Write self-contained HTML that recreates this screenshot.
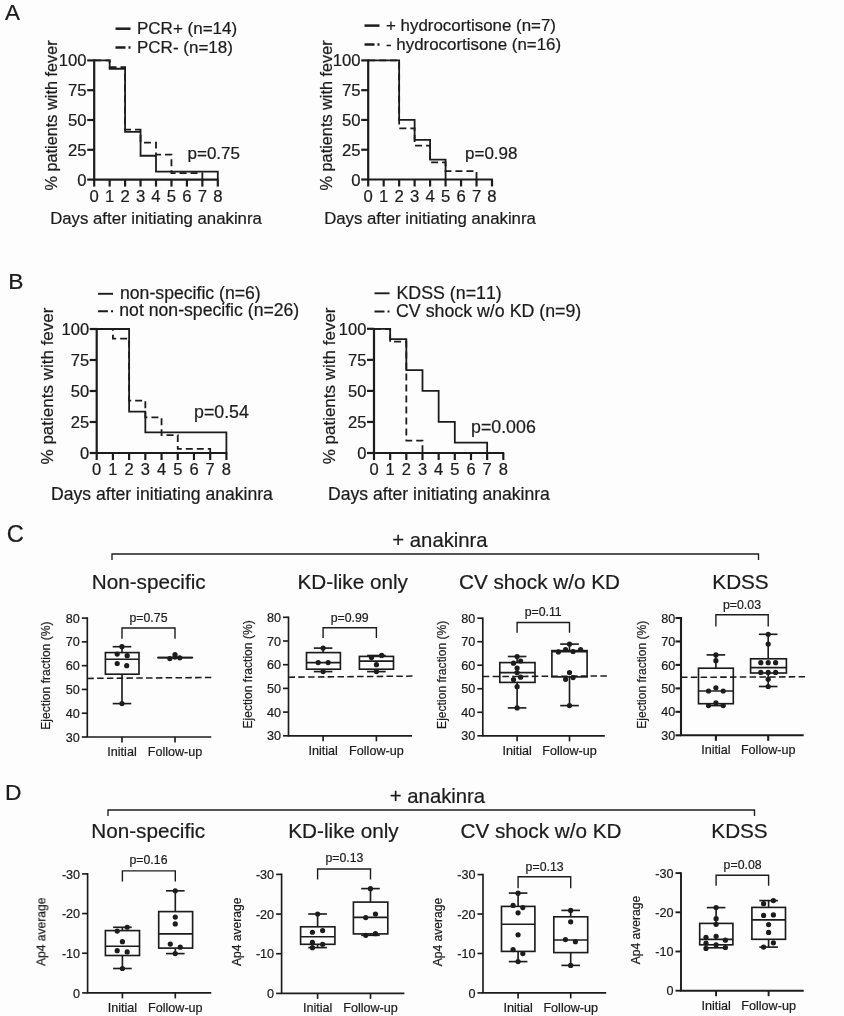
<!DOCTYPE html>
<html><head><meta charset="utf-8"><title>Figure</title>
<style>
html,body{margin:0;padding:0;background:#fdfdfd;}
body{width:844px;height:1016px;overflow:hidden;}
svg{display:block;font-family:"Liberation Sans", sans-serif;}
svg text{fill:#1c1c1c;stroke:#1c1c1c;stroke-width:0.22px;}
</style></head><body>
<svg width="844" height="1016" viewBox="0 0 844 1016" stroke="#1c1c1c" fill="none">
<rect x="0" y="0" width="844" height="1016" fill="#fdfdfd" stroke="none"/>
<g opacity="0.999">
<path d="M94.20,59.50 V179.60 H218.70" fill="none" stroke-width="2.2" stroke-linejoin="miter"/>
<line x1="87.20" y1="60.40" x2="94.20" y2="60.40" stroke-width="2.2" stroke-linecap="butt"/>
<text x="86.6" y="66.4" font-size="16.7" text-anchor="end">100</text>
<line x1="87.20" y1="90.20" x2="94.20" y2="90.20" stroke-width="2.2" stroke-linecap="butt"/>
<text x="86.6" y="96.2" font-size="16.7" text-anchor="end">75</text>
<line x1="87.20" y1="120.00" x2="94.20" y2="120.00" stroke-width="2.2" stroke-linecap="butt"/>
<text x="86.6" y="126.0" font-size="16.7" text-anchor="end">50</text>
<line x1="87.20" y1="149.80" x2="94.20" y2="149.80" stroke-width="2.2" stroke-linecap="butt"/>
<text x="86.6" y="155.8" font-size="16.7" text-anchor="end">25</text>
<line x1="87.20" y1="179.60" x2="94.20" y2="179.60" stroke-width="2.2" stroke-linecap="butt"/>
<text x="86.6" y="185.6" font-size="16.7" text-anchor="end">0</text>
<line x1="94.20" y1="179.60" x2="94.20" y2="186.60" stroke-width="2.2" stroke-linecap="butt"/>
<text x="94.2" y="201.9" font-size="16.7" text-anchor="middle">0</text>
<line x1="109.65" y1="179.60" x2="109.65" y2="186.60" stroke-width="2.2" stroke-linecap="butt"/>
<text x="109.65" y="201.9" font-size="16.7" text-anchor="middle">1</text>
<line x1="125.10" y1="179.60" x2="125.10" y2="186.60" stroke-width="2.2" stroke-linecap="butt"/>
<text x="125.1" y="201.9" font-size="16.7" text-anchor="middle">2</text>
<line x1="140.55" y1="179.60" x2="140.55" y2="186.60" stroke-width="2.2" stroke-linecap="butt"/>
<text x="140.55" y="201.9" font-size="16.7" text-anchor="middle">3</text>
<line x1="156.00" y1="179.60" x2="156.00" y2="186.60" stroke-width="2.2" stroke-linecap="butt"/>
<text x="156.0" y="201.9" font-size="16.7" text-anchor="middle">4</text>
<line x1="171.45" y1="179.60" x2="171.45" y2="186.60" stroke-width="2.2" stroke-linecap="butt"/>
<text x="171.45" y="201.9" font-size="16.7" text-anchor="middle">5</text>
<line x1="186.90" y1="179.60" x2="186.90" y2="186.60" stroke-width="2.2" stroke-linecap="butt"/>
<text x="186.9" y="201.9" font-size="16.7" text-anchor="middle">6</text>
<line x1="202.35" y1="179.60" x2="202.35" y2="186.60" stroke-width="2.2" stroke-linecap="butt"/>
<text x="202.35" y="201.9" font-size="16.7" text-anchor="middle">7</text>
<line x1="217.80" y1="179.60" x2="217.80" y2="186.60" stroke-width="2.2" stroke-linecap="butt"/>
<text x="217.8" y="201.9" font-size="16.7" text-anchor="middle">8</text>
<path d="M94.20,60.40 H109.65 V67.08 H125.10 V129.54 H140.55 V142.65 H156.00 V154.57 H171.45 V173.04 H202.35 V179.60" fill="none" stroke-width="1.8" stroke-dasharray="7 4" stroke-linejoin="miter"/>
<path d="M94.20,60.40 H109.65 V68.74 H125.10 V131.92 H140.55 V155.76 H156.00 V171.61 H217.80 V179.60" fill="none" stroke-width="1.8" stroke-linejoin="miter"/>
<text x="57.3" y="115.4" font-size="16.3" text-anchor="middle" transform="rotate(-90 57.3 115.4)">% patients with fever</text>
<text x="156" y="224" font-size="16.8" text-anchor="middle">Days after initiating anakinra</text>
<text x="187.5" y="159" font-size="17" text-anchor="start">p=0.75</text>
<line x1="115.50" y1="28.70" x2="130.50" y2="28.70" stroke-width="2.5" stroke-linecap="butt"/>
<line x1="115.50" y1="47.40" x2="130.50" y2="47.40" stroke-width="2.5" stroke-dasharray="10 3 2.5 50" stroke-linecap="butt"/>
<text x="137" y="34.2" font-size="17" text-anchor="start">PCR+ (n=14)</text>
<text x="137" y="53.1" font-size="17" text-anchor="start">PCR- (n=18)</text>
<path d="M368.20,59.50 V179.50 H492.90" fill="none" stroke-width="2.2" stroke-linejoin="miter"/>
<line x1="361.20" y1="60.40" x2="368.20" y2="60.40" stroke-width="2.2" stroke-linecap="butt"/>
<text x="360.6" y="66.4" font-size="16.7" text-anchor="end">100</text>
<line x1="361.20" y1="90.18" x2="368.20" y2="90.18" stroke-width="2.2" stroke-linecap="butt"/>
<text x="360.6" y="96.18" font-size="16.7" text-anchor="end">75</text>
<line x1="361.20" y1="119.95" x2="368.20" y2="119.95" stroke-width="2.2" stroke-linecap="butt"/>
<text x="360.6" y="125.95" font-size="16.7" text-anchor="end">50</text>
<line x1="361.20" y1="149.72" x2="368.20" y2="149.72" stroke-width="2.2" stroke-linecap="butt"/>
<text x="360.6" y="155.72" font-size="16.7" text-anchor="end">25</text>
<line x1="361.20" y1="179.50" x2="368.20" y2="179.50" stroke-width="2.2" stroke-linecap="butt"/>
<text x="360.6" y="185.5" font-size="16.7" text-anchor="end">0</text>
<line x1="368.20" y1="179.50" x2="368.20" y2="186.50" stroke-width="2.2" stroke-linecap="butt"/>
<text x="368.2" y="201.8" font-size="16.7" text-anchor="middle">0</text>
<line x1="383.68" y1="179.50" x2="383.68" y2="186.50" stroke-width="2.2" stroke-linecap="butt"/>
<text x="383.68" y="201.8" font-size="16.7" text-anchor="middle">1</text>
<line x1="399.15" y1="179.50" x2="399.15" y2="186.50" stroke-width="2.2" stroke-linecap="butt"/>
<text x="399.15" y="201.8" font-size="16.7" text-anchor="middle">2</text>
<line x1="414.62" y1="179.50" x2="414.62" y2="186.50" stroke-width="2.2" stroke-linecap="butt"/>
<text x="414.62" y="201.8" font-size="16.7" text-anchor="middle">3</text>
<line x1="430.10" y1="179.50" x2="430.10" y2="186.50" stroke-width="2.2" stroke-linecap="butt"/>
<text x="430.1" y="201.8" font-size="16.7" text-anchor="middle">4</text>
<line x1="445.57" y1="179.50" x2="445.57" y2="186.50" stroke-width="2.2" stroke-linecap="butt"/>
<text x="445.57" y="201.8" font-size="16.7" text-anchor="middle">5</text>
<line x1="461.05" y1="179.50" x2="461.05" y2="186.50" stroke-width="2.2" stroke-linecap="butt"/>
<text x="461.05" y="201.8" font-size="16.7" text-anchor="middle">6</text>
<line x1="476.52" y1="179.50" x2="476.52" y2="186.50" stroke-width="2.2" stroke-linecap="butt"/>
<text x="476.52" y="201.8" font-size="16.7" text-anchor="middle">7</text>
<line x1="492.00" y1="179.50" x2="492.00" y2="186.50" stroke-width="2.2" stroke-linecap="butt"/>
<text x="492.0" y="201.8" font-size="16.7" text-anchor="middle">8</text>
<path d="M368.20,60.40 H399.15 V128.29 H414.62 V145.56 H430.10 V162.47 H445.57 V171.16 H476.52 V179.50" fill="none" stroke-width="1.8" stroke-dasharray="7 4" stroke-linejoin="miter"/>
<path d="M368.20,60.40 H399.15 V119.95 H414.62 V139.84 H430.10 V159.61 H445.57 V179.50" fill="none" stroke-width="1.8" stroke-linejoin="miter"/>
<text x="331.8" y="115.35" font-size="16.3" text-anchor="middle" transform="rotate(-90 331.8 115.35)">% patients with fever</text>
<text x="430" y="224" font-size="16.8" text-anchor="middle">Days after initiating anakinra</text>
<text x="465" y="159" font-size="17" text-anchor="start">p=0.98</text>
<line x1="364.50" y1="25.60" x2="379.50" y2="25.60" stroke-width="2.5" stroke-linecap="butt"/>
<line x1="364.50" y1="44.40" x2="379.50" y2="44.40" stroke-width="2.5" stroke-dasharray="10 3 2.5 50" stroke-linecap="butt"/>
<text x="386" y="30.6" font-size="16.9" text-anchor="start">+ hydrocortisone (n=7)</text>
<text x="386" y="49.8" font-size="16.9" text-anchor="start">- hydrocortisone (n=16)</text>
<path d="M96.70,328.10 V453.00 H227.30" fill="none" stroke-width="2.2" stroke-linejoin="miter"/>
<line x1="89.70" y1="329.00" x2="96.70" y2="329.00" stroke-width="2.2" stroke-linecap="butt"/>
<text x="89.1" y="335.0" font-size="16.5" text-anchor="end">100</text>
<line x1="89.70" y1="360.00" x2="96.70" y2="360.00" stroke-width="2.2" stroke-linecap="butt"/>
<text x="89.1" y="366.0" font-size="16.5" text-anchor="end">75</text>
<line x1="89.70" y1="391.00" x2="96.70" y2="391.00" stroke-width="2.2" stroke-linecap="butt"/>
<text x="89.1" y="397.0" font-size="16.5" text-anchor="end">50</text>
<line x1="89.70" y1="422.00" x2="96.70" y2="422.00" stroke-width="2.2" stroke-linecap="butt"/>
<text x="89.1" y="428.0" font-size="16.5" text-anchor="end">25</text>
<line x1="89.70" y1="453.00" x2="96.70" y2="453.00" stroke-width="2.2" stroke-linecap="butt"/>
<text x="89.1" y="459.0" font-size="16.5" text-anchor="end">0</text>
<line x1="96.70" y1="453.00" x2="96.70" y2="460.00" stroke-width="2.2" stroke-linecap="butt"/>
<text x="96.7" y="475.3" font-size="16.5" text-anchor="middle">0</text>
<line x1="112.91" y1="453.00" x2="112.91" y2="460.00" stroke-width="2.2" stroke-linecap="butt"/>
<text x="112.91" y="475.3" font-size="16.5" text-anchor="middle">1</text>
<line x1="129.12" y1="453.00" x2="129.12" y2="460.00" stroke-width="2.2" stroke-linecap="butt"/>
<text x="129.12" y="475.3" font-size="16.5" text-anchor="middle">2</text>
<line x1="145.34" y1="453.00" x2="145.34" y2="460.00" stroke-width="2.2" stroke-linecap="butt"/>
<text x="145.34" y="475.3" font-size="16.5" text-anchor="middle">3</text>
<line x1="161.55" y1="453.00" x2="161.55" y2="460.00" stroke-width="2.2" stroke-linecap="butt"/>
<text x="161.55" y="475.3" font-size="16.5" text-anchor="middle">4</text>
<line x1="177.76" y1="453.00" x2="177.76" y2="460.00" stroke-width="2.2" stroke-linecap="butt"/>
<text x="177.76" y="475.3" font-size="16.5" text-anchor="middle">5</text>
<line x1="193.97" y1="453.00" x2="193.97" y2="460.00" stroke-width="2.2" stroke-linecap="butt"/>
<text x="193.97" y="475.3" font-size="16.5" text-anchor="middle">6</text>
<line x1="210.19" y1="453.00" x2="210.19" y2="460.00" stroke-width="2.2" stroke-linecap="butt"/>
<text x="210.19" y="475.3" font-size="16.5" text-anchor="middle">7</text>
<line x1="226.40" y1="453.00" x2="226.40" y2="460.00" stroke-width="2.2" stroke-linecap="butt"/>
<text x="226.4" y="475.3" font-size="16.5" text-anchor="middle">8</text>
<path d="M96.70,329.00 H112.91 V338.55 H129.12 V400.55 H145.34 V417.29 H161.55 V435.14 H177.76 V448.91 H210.19 V453.00" fill="none" stroke-width="1.8" stroke-dasharray="7 4" stroke-linejoin="miter"/>
<path d="M96.70,329.00 H129.12 V411.71 H145.34 V432.29 H226.40 V453.00" fill="none" stroke-width="1.8" stroke-linejoin="miter"/>
<text x="52.8" y="386.0" font-size="17.0" text-anchor="middle" transform="rotate(-90 52.8 386.0)">% patients with fever</text>
<text x="162" y="500" font-size="17.59" text-anchor="middle">Days after initiating anakinra</text>
<text x="194" y="418" font-size="17.8" text-anchor="start">p=0.54</text>
<line x1="98.00" y1="293.80" x2="113.00" y2="293.80" stroke-width="1.9" stroke-linecap="butt"/>
<line x1="98.00" y1="311.30" x2="113.00" y2="311.30" stroke-width="1.9" stroke-dasharray="10 3 2.5 50" stroke-linecap="butt"/>
<text x="120" y="299.0" font-size="17.65" text-anchor="start">non-specific (n=6)</text>
<text x="119.3" y="316.3" font-size="17.65" text-anchor="start">not non-specific (n=26)</text>
<path d="M374.00,327.90 V453.00 H504.20" fill="none" stroke-width="2.2" stroke-linejoin="miter"/>
<line x1="367.00" y1="328.80" x2="374.00" y2="328.80" stroke-width="2.2" stroke-linecap="butt"/>
<text x="366.4" y="334.8" font-size="16.5" text-anchor="end">100</text>
<line x1="367.00" y1="359.85" x2="374.00" y2="359.85" stroke-width="2.2" stroke-linecap="butt"/>
<text x="366.4" y="365.85" font-size="16.5" text-anchor="end">75</text>
<line x1="367.00" y1="390.90" x2="374.00" y2="390.90" stroke-width="2.2" stroke-linecap="butt"/>
<text x="366.4" y="396.9" font-size="16.5" text-anchor="end">50</text>
<line x1="367.00" y1="421.95" x2="374.00" y2="421.95" stroke-width="2.2" stroke-linecap="butt"/>
<text x="366.4" y="427.95" font-size="16.5" text-anchor="end">25</text>
<line x1="367.00" y1="453.00" x2="374.00" y2="453.00" stroke-width="2.2" stroke-linecap="butt"/>
<text x="366.4" y="459.0" font-size="16.5" text-anchor="end">0</text>
<line x1="374.00" y1="453.00" x2="374.00" y2="460.00" stroke-width="2.2" stroke-linecap="butt"/>
<text x="374.0" y="475.3" font-size="16.5" text-anchor="middle">0</text>
<line x1="390.16" y1="453.00" x2="390.16" y2="460.00" stroke-width="2.2" stroke-linecap="butt"/>
<text x="390.16" y="475.3" font-size="16.5" text-anchor="middle">1</text>
<line x1="406.32" y1="453.00" x2="406.32" y2="460.00" stroke-width="2.2" stroke-linecap="butt"/>
<text x="406.32" y="475.3" font-size="16.5" text-anchor="middle">2</text>
<line x1="422.49" y1="453.00" x2="422.49" y2="460.00" stroke-width="2.2" stroke-linecap="butt"/>
<text x="422.49" y="475.3" font-size="16.5" text-anchor="middle">3</text>
<line x1="438.65" y1="453.00" x2="438.65" y2="460.00" stroke-width="2.2" stroke-linecap="butt"/>
<text x="438.65" y="475.3" font-size="16.5" text-anchor="middle">4</text>
<line x1="454.81" y1="453.00" x2="454.81" y2="460.00" stroke-width="2.2" stroke-linecap="butt"/>
<text x="454.81" y="475.3" font-size="16.5" text-anchor="middle">5</text>
<line x1="470.98" y1="453.00" x2="470.98" y2="460.00" stroke-width="2.2" stroke-linecap="butt"/>
<text x="470.98" y="475.3" font-size="16.5" text-anchor="middle">6</text>
<line x1="487.14" y1="453.00" x2="487.14" y2="460.00" stroke-width="2.2" stroke-linecap="butt"/>
<text x="487.14" y="475.3" font-size="16.5" text-anchor="middle">7</text>
<line x1="503.30" y1="453.00" x2="503.30" y2="460.00" stroke-width="2.2" stroke-linecap="butt"/>
<text x="503.3" y="475.3" font-size="16.5" text-anchor="middle">8</text>
<path d="M374.00,328.80 H390.16 V341.72 H406.32 V440.58 H422.49 V453.00" fill="none" stroke-width="1.8" stroke-dasharray="7 4" stroke-linejoin="miter"/>
<path d="M374.00,328.80 H390.16 V339.11 H406.32 V370.16 H422.49 V390.90 H438.65 V421.95 H454.81 V442.69 H487.14 V453.00" fill="none" stroke-width="1.8" stroke-linejoin="miter"/>
<text x="335.0" y="385.9" font-size="17.0" text-anchor="middle" transform="rotate(-90 335.0 385.9)">% patients with fever</text>
<text x="439" y="500" font-size="17.59" text-anchor="middle">Days after initiating anakinra</text>
<text x="471" y="433" font-size="17.8" text-anchor="start">p=0.006</text>
<line x1="374.50" y1="293.30" x2="389.50" y2="293.30" stroke-width="1.9" stroke-linecap="butt"/>
<line x1="374.50" y1="311.50" x2="389.50" y2="311.50" stroke-width="1.9" stroke-dasharray="10 3 2.5 50" stroke-linecap="butt"/>
<text x="396.5" y="298.8" font-size="17.8" text-anchor="start" style="font-kerning:none">KDSS (n=11)</text>
<text x="396" y="316.7" font-size="17.8" text-anchor="start">CV shock w/o KD (n=9)</text>
<text x="5" y="20" font-size="22.4" text-anchor="start">A</text>
<text x="8.2" y="289.4" font-size="22.8" text-anchor="start">B</text>
<text x="6.8" y="542.4" font-size="23.6" text-anchor="start">C</text>
<text x="5" y="799.8" font-size="22.8" text-anchor="start">D</text>
<path d="M87.30,617.27 V737.00 H211.30" fill="none" stroke-width="1.65" stroke-linejoin="miter"/>
<line x1="81.80" y1="618.10" x2="87.30" y2="618.10" stroke-width="1.65" stroke-linecap="butt"/>
<text x="79.8" y="622.7" font-size="12.6" text-anchor="end">80</text>
<line x1="81.80" y1="641.88" x2="87.30" y2="641.88" stroke-width="1.65" stroke-linecap="butt"/>
<text x="79.8" y="646.48" font-size="12.6" text-anchor="end">70</text>
<line x1="81.80" y1="665.66" x2="87.30" y2="665.66" stroke-width="1.65" stroke-linecap="butt"/>
<text x="79.8" y="670.26" font-size="12.6" text-anchor="end">60</text>
<line x1="81.80" y1="689.44" x2="87.30" y2="689.44" stroke-width="1.65" stroke-linecap="butt"/>
<text x="79.8" y="694.04" font-size="12.6" text-anchor="end">50</text>
<line x1="81.80" y1="713.22" x2="87.30" y2="713.22" stroke-width="1.65" stroke-linecap="butt"/>
<text x="79.8" y="717.82" font-size="12.6" text-anchor="end">40</text>
<line x1="81.80" y1="737.00" x2="87.30" y2="737.00" stroke-width="1.65" stroke-linecap="butt"/>
<text x="79.8" y="741.6" font-size="12.6" text-anchor="end">30</text>
<line x1="122.00" y1="737.00" x2="122.00" y2="742.50" stroke-width="1.65" stroke-linecap="butt"/>
<text x="122" y="755.9" font-size="12.6" text-anchor="middle">Initial</text>
<line x1="175.00" y1="737.00" x2="175.00" y2="742.50" stroke-width="1.65" stroke-linecap="butt"/>
<text x="175" y="755.9" font-size="12.6" text-anchor="middle">Follow-up</text>
<text x="50" y="675.6" font-size="12.1" text-anchor="middle" transform="rotate(-90 50 675.6)">Ejection fraction (%)</text>
<line x1="87.30" y1="678.40" x2="211.30" y2="677.50" stroke-width="1.55" stroke-dasharray="6.5 3.3" stroke-linecap="butt"/>
<line x1="122.00" y1="646.70" x2="122.00" y2="652.60" stroke-width="1.65" stroke-linecap="butt"/>
<line x1="122.00" y1="674.20" x2="122.00" y2="703.60" stroke-width="1.65" stroke-linecap="butt"/>
<line x1="112.70" y1="646.70" x2="131.30" y2="646.70" stroke-width="1.65" stroke-linecap="butt"/>
<line x1="112.70" y1="703.60" x2="131.30" y2="703.60" stroke-width="1.65" stroke-linecap="butt"/>
<rect x="105.40" y="652.60" width="33.60" height="21.60" fill="none" stroke-width="1.65"/>
<line x1="105.40" y1="659.20" x2="139.00" y2="659.20" stroke-width="1.65" stroke-linecap="butt"/>
<circle cx="121.94" cy="646.68" r="2.6" fill="#1c1c1c" stroke="none"/>
<circle cx="117.20" cy="654.03" r="2.6" fill="#1c1c1c" stroke="none"/>
<circle cx="127.16" cy="655.69" r="2.6" fill="#1c1c1c" stroke="none"/>
<circle cx="117.20" cy="663.51" r="2.6" fill="#1c1c1c" stroke="none"/>
<circle cx="126.68" cy="665.64" r="2.6" fill="#1c1c1c" stroke="none"/>
<circle cx="121.94" cy="703.55" r="2.6" fill="#1c1c1c" stroke="none"/>
<line x1="175.00" y1="657.60" x2="175.00" y2="657.60" stroke-width="1.65" stroke-linecap="butt"/>
<line x1="175.00" y1="657.60" x2="175.00" y2="657.60" stroke-width="1.65" stroke-linecap="butt"/>
<line x1="175.00" y1="657.60" x2="175.00" y2="657.60" stroke-width="1.65" stroke-linecap="butt"/>
<line x1="175.00" y1="657.60" x2="175.00" y2="657.60" stroke-width="1.65" stroke-linecap="butt"/>
<rect x="158.00" y="657.60" width="34.30" height="0.01" fill="none" stroke-width="1.65"/>
<line x1="158.00" y1="657.60" x2="192.30" y2="657.60" stroke-width="1.65" stroke-linecap="butt"/>
<circle cx="175.02" cy="654.50" r="2.6" fill="#1c1c1c" stroke="none"/>
<circle cx="169.81" cy="658.53" r="2.6" fill="#1c1c1c" stroke="none"/>
<circle cx="179.76" cy="657.82" r="2.6" fill="#1c1c1c" stroke="none"/>
<circle cx="175.02" cy="657.11" r="2.6" fill="#1c1c1c" stroke="none"/>
<path d="M122.00,638.70 V628.00 H175.00 V638.70" fill="none" stroke-width="1.4" stroke-linejoin="miter"/>
<text x="148.5" y="621.8" font-size="12.3" text-anchor="middle">p=0.75</text>
<path d="M288.50,616.47 V735.80 H412.00" fill="none" stroke-width="1.65" stroke-linejoin="miter"/>
<line x1="283.00" y1="617.30" x2="288.50" y2="617.30" stroke-width="1.65" stroke-linecap="butt"/>
<text x="281.0" y="621.9" font-size="12.6" text-anchor="end">80</text>
<line x1="283.00" y1="641.00" x2="288.50" y2="641.00" stroke-width="1.65" stroke-linecap="butt"/>
<text x="281.0" y="645.6" font-size="12.6" text-anchor="end">70</text>
<line x1="283.00" y1="664.70" x2="288.50" y2="664.70" stroke-width="1.65" stroke-linecap="butt"/>
<text x="281.0" y="669.3" font-size="12.6" text-anchor="end">60</text>
<line x1="283.00" y1="688.40" x2="288.50" y2="688.40" stroke-width="1.65" stroke-linecap="butt"/>
<text x="281.0" y="693.0" font-size="12.6" text-anchor="end">50</text>
<line x1="283.00" y1="712.10" x2="288.50" y2="712.10" stroke-width="1.65" stroke-linecap="butt"/>
<text x="281.0" y="716.7" font-size="12.6" text-anchor="end">40</text>
<line x1="283.00" y1="735.80" x2="288.50" y2="735.80" stroke-width="1.65" stroke-linecap="butt"/>
<text x="281.0" y="740.4" font-size="12.6" text-anchor="end">30</text>
<line x1="323.10" y1="735.80" x2="323.10" y2="741.30" stroke-width="1.65" stroke-linecap="butt"/>
<text x="323.1" y="754.7" font-size="12.6" text-anchor="middle">Initial</text>
<line x1="376.40" y1="735.80" x2="376.40" y2="741.30" stroke-width="1.65" stroke-linecap="butt"/>
<text x="376.4" y="754.7" font-size="12.6" text-anchor="middle">Follow-up</text>
<text x="251.6" y="674.4" font-size="12.1" text-anchor="middle" transform="rotate(-90 251.6 674.4)">Ejection fraction (%)</text>
<line x1="288.50" y1="677.20" x2="412.50" y2="676.10" stroke-width="1.55" stroke-dasharray="6.5 3.3" stroke-linecap="butt"/>
<line x1="323.10" y1="648.10" x2="323.10" y2="652.60" stroke-width="1.65" stroke-linecap="butt"/>
<line x1="323.10" y1="669.20" x2="323.10" y2="671.60" stroke-width="1.65" stroke-linecap="butt"/>
<line x1="313.80" y1="648.10" x2="332.40" y2="648.10" stroke-width="1.65" stroke-linecap="butt"/>
<line x1="313.80" y1="671.60" x2="332.40" y2="671.60" stroke-width="1.65" stroke-linecap="butt"/>
<rect x="306.50" y="652.60" width="33.90" height="16.60" fill="none" stroke-width="1.65"/>
<line x1="306.50" y1="662.60" x2="340.40" y2="662.60" stroke-width="1.65" stroke-linecap="butt"/>
<circle cx="323.13" cy="648.10" r="2.6" fill="#1c1c1c" stroke="none"/>
<circle cx="318.15" cy="662.56" r="2.6" fill="#1c1c1c" stroke="none"/>
<circle cx="328.10" cy="662.56" r="2.6" fill="#1c1c1c" stroke="none"/>
<circle cx="323.13" cy="671.56" r="2.6" fill="#1c1c1c" stroke="none"/>
<line x1="376.40" y1="655.50" x2="376.40" y2="656.40" stroke-width="1.65" stroke-linecap="butt"/>
<line x1="376.40" y1="669.20" x2="376.40" y2="671.60" stroke-width="1.65" stroke-linecap="butt"/>
<line x1="367.10" y1="655.50" x2="385.70" y2="655.50" stroke-width="1.65" stroke-linecap="butt"/>
<line x1="367.10" y1="671.60" x2="385.70" y2="671.60" stroke-width="1.65" stroke-linecap="butt"/>
<rect x="359.40" y="656.40" width="34.10" height="12.80" fill="none" stroke-width="1.65"/>
<line x1="359.40" y1="661.10" x2="393.50" y2="661.10" stroke-width="1.65" stroke-linecap="butt"/>
<circle cx="371.47" cy="657.58" r="2.6" fill="#1c1c1c" stroke="none"/>
<circle cx="381.66" cy="655.45" r="2.6" fill="#1c1c1c" stroke="none"/>
<circle cx="376.45" cy="664.69" r="2.6" fill="#1c1c1c" stroke="none"/>
<circle cx="376.45" cy="671.56" r="2.6" fill="#1c1c1c" stroke="none"/>
<path d="M323.10,637.90 V627.70 H376.40 V637.90" fill="none" stroke-width="1.4" stroke-linejoin="miter"/>
<text x="349.7" y="621.5" font-size="12.3" text-anchor="middle">p=0.99</text>
<path d="M482.80,617.38 V735.80 H604.80" fill="none" stroke-width="1.65" stroke-linejoin="miter"/>
<line x1="477.30" y1="618.20" x2="482.80" y2="618.20" stroke-width="1.65" stroke-linecap="butt"/>
<text x="475.3" y="622.8" font-size="12.6" text-anchor="end">80</text>
<line x1="477.30" y1="641.72" x2="482.80" y2="641.72" stroke-width="1.65" stroke-linecap="butt"/>
<text x="475.3" y="646.32" font-size="12.6" text-anchor="end">70</text>
<line x1="477.30" y1="665.24" x2="482.80" y2="665.24" stroke-width="1.65" stroke-linecap="butt"/>
<text x="475.3" y="669.84" font-size="12.6" text-anchor="end">60</text>
<line x1="477.30" y1="688.76" x2="482.80" y2="688.76" stroke-width="1.65" stroke-linecap="butt"/>
<text x="475.3" y="693.36" font-size="12.6" text-anchor="end">50</text>
<line x1="477.30" y1="712.28" x2="482.80" y2="712.28" stroke-width="1.65" stroke-linecap="butt"/>
<text x="475.3" y="716.88" font-size="12.6" text-anchor="end">40</text>
<line x1="477.30" y1="735.80" x2="482.80" y2="735.80" stroke-width="1.65" stroke-linecap="butt"/>
<text x="475.3" y="740.4" font-size="12.6" text-anchor="end">30</text>
<line x1="517.10" y1="735.80" x2="517.10" y2="741.30" stroke-width="1.65" stroke-linecap="butt"/>
<text x="517.1" y="754.7" font-size="12.6" text-anchor="middle">Initial</text>
<line x1="569.50" y1="735.80" x2="569.50" y2="741.30" stroke-width="1.65" stroke-linecap="butt"/>
<text x="569.5" y="754.7" font-size="12.6" text-anchor="middle">Follow-up</text>
<text x="446.3" y="674.8" font-size="12.1" text-anchor="middle" transform="rotate(-90 446.3 674.8)">Ejection fraction (%)</text>
<line x1="482.80" y1="676.60" x2="607.00" y2="676.00" stroke-width="1.55" stroke-dasharray="6.5 3.3" stroke-linecap="butt"/>
<line x1="517.10" y1="656.50" x2="517.10" y2="662.60" stroke-width="1.65" stroke-linecap="butt"/>
<line x1="517.10" y1="682.40" x2="517.10" y2="707.90" stroke-width="1.65" stroke-linecap="butt"/>
<line x1="507.80" y1="656.50" x2="526.40" y2="656.50" stroke-width="1.65" stroke-linecap="butt"/>
<line x1="507.80" y1="707.90" x2="526.40" y2="707.90" stroke-width="1.65" stroke-linecap="butt"/>
<rect x="499.80" y="662.60" width="35.20" height="19.80" fill="none" stroke-width="1.65"/>
<line x1="499.80" y1="672.60" x2="535.00" y2="672.60" stroke-width="1.65" stroke-linecap="butt"/>
<circle cx="517.10" cy="656.50" r="2.6" fill="#1c1c1c" stroke="none"/>
<circle cx="513.50" cy="663.20" r="2.6" fill="#1c1c1c" stroke="none"/>
<circle cx="520.60" cy="661.00" r="2.6" fill="#1c1c1c" stroke="none"/>
<circle cx="517.10" cy="668.10" r="2.6" fill="#1c1c1c" stroke="none"/>
<circle cx="517.10" cy="672.60" r="2.6" fill="#1c1c1c" stroke="none"/>
<circle cx="513.50" cy="679.50" r="2.6" fill="#1c1c1c" stroke="none"/>
<circle cx="520.60" cy="677.20" r="2.6" fill="#1c1c1c" stroke="none"/>
<circle cx="517.10" cy="686.70" r="2.6" fill="#1c1c1c" stroke="none"/>
<circle cx="517.10" cy="707.90" r="2.6" fill="#1c1c1c" stroke="none"/>
<line x1="569.50" y1="644.10" x2="569.50" y2="650.60" stroke-width="1.65" stroke-linecap="butt"/>
<line x1="569.50" y1="676.90" x2="569.50" y2="705.60" stroke-width="1.65" stroke-linecap="butt"/>
<line x1="560.20" y1="644.10" x2="578.80" y2="644.10" stroke-width="1.65" stroke-linecap="butt"/>
<line x1="560.20" y1="705.60" x2="578.80" y2="705.60" stroke-width="1.65" stroke-linecap="butt"/>
<rect x="551.90" y="650.60" width="35.20" height="26.30" fill="none" stroke-width="1.65"/>
<line x1="551.90" y1="651.20" x2="587.10" y2="651.20" stroke-width="2.4" stroke-linecap="butt"/>
<circle cx="569.50" cy="644.10" r="2.6" fill="#1c1c1c" stroke="none"/>
<circle cx="565.60" cy="649.50" r="2.6" fill="#1c1c1c" stroke="none"/>
<circle cx="580.60" cy="649.50" r="2.6" fill="#1c1c1c" stroke="none"/>
<circle cx="558.40" cy="651.90" r="2.6" fill="#1c1c1c" stroke="none"/>
<circle cx="573.10" cy="651.50" r="2.6" fill="#1c1c1c" stroke="none"/>
<circle cx="569.50" cy="672.60" r="2.6" fill="#1c1c1c" stroke="none"/>
<circle cx="565.60" cy="679.30" r="2.6" fill="#1c1c1c" stroke="none"/>
<circle cx="573.10" cy="677.60" r="2.6" fill="#1c1c1c" stroke="none"/>
<circle cx="569.50" cy="705.60" r="2.6" fill="#1c1c1c" stroke="none"/>
<path d="M517.10,632.70 V622.50 H569.50 V632.70" fill="none" stroke-width="1.4" stroke-linejoin="miter"/>
<text x="543.2" y="616" font-size="12.3" text-anchor="middle">p=0.11</text>
<path d="M681.00,616.95 V735.30 H803.70" fill="none" stroke-width="2.1" stroke-linejoin="miter"/>
<line x1="675.50" y1="618.00" x2="681.00" y2="618.00" stroke-width="2.1" stroke-linecap="butt"/>
<text x="675.3" y="622.6" font-size="12.6" text-anchor="end">80</text>
<line x1="675.50" y1="641.46" x2="681.00" y2="641.46" stroke-width="2.1" stroke-linecap="butt"/>
<text x="675.3" y="646.06" font-size="12.6" text-anchor="end">70</text>
<line x1="675.50" y1="664.92" x2="681.00" y2="664.92" stroke-width="2.1" stroke-linecap="butt"/>
<text x="675.3" y="669.52" font-size="12.6" text-anchor="end">60</text>
<line x1="675.50" y1="688.38" x2="681.00" y2="688.38" stroke-width="2.1" stroke-linecap="butt"/>
<text x="675.3" y="692.98" font-size="12.6" text-anchor="end">50</text>
<line x1="675.50" y1="711.84" x2="681.00" y2="711.84" stroke-width="2.1" stroke-linecap="butt"/>
<text x="675.3" y="716.44" font-size="12.6" text-anchor="end">40</text>
<line x1="675.50" y1="735.30" x2="681.00" y2="735.30" stroke-width="2.1" stroke-linecap="butt"/>
<text x="675.3" y="739.9" font-size="12.6" text-anchor="end">30</text>
<line x1="715.90" y1="735.30" x2="715.90" y2="740.80" stroke-width="2.1" stroke-linecap="butt"/>
<text x="715.9" y="754.2" font-size="12.6" text-anchor="middle">Initial</text>
<line x1="768.20" y1="735.30" x2="768.20" y2="740.80" stroke-width="2.1" stroke-linecap="butt"/>
<text x="768.2" y="754.2" font-size="12.6" text-anchor="middle">Follow-up</text>
<text x="645.7" y="674.7" font-size="12.1" text-anchor="middle" transform="rotate(-90 645.7 674.7)">Ejection fraction (%)</text>
<line x1="681.00" y1="677.30" x2="805.80" y2="676.80" stroke-width="1.55" stroke-dasharray="6.5 3.3" stroke-linecap="butt"/>
<line x1="715.90" y1="654.90" x2="715.90" y2="668.20" stroke-width="1.65" stroke-linecap="butt"/>
<line x1="715.90" y1="703.70" x2="715.90" y2="705.60" stroke-width="1.65" stroke-linecap="butt"/>
<line x1="706.60" y1="654.90" x2="725.20" y2="654.90" stroke-width="1.65" stroke-linecap="butt"/>
<line x1="706.60" y1="705.60" x2="725.20" y2="705.60" stroke-width="1.65" stroke-linecap="butt"/>
<rect x="698.50" y="668.20" width="34.80" height="35.50" fill="none" stroke-width="1.65"/>
<line x1="698.50" y1="691.00" x2="733.30" y2="691.00" stroke-width="1.65" stroke-linecap="butt"/>
<circle cx="715.90" cy="654.90" r="2.6" fill="#1c1c1c" stroke="none"/>
<circle cx="715.90" cy="660.70" r="2.6" fill="#1c1c1c" stroke="none"/>
<circle cx="708.50" cy="691.00" r="2.6" fill="#1c1c1c" stroke="none"/>
<circle cx="715.90" cy="687.80" r="2.6" fill="#1c1c1c" stroke="none"/>
<circle cx="723.20" cy="691.00" r="2.6" fill="#1c1c1c" stroke="none"/>
<circle cx="708.50" cy="705.60" r="2.6" fill="#1c1c1c" stroke="none"/>
<circle cx="715.90" cy="702.80" r="2.6" fill="#1c1c1c" stroke="none"/>
<circle cx="723.20" cy="705.60" r="2.6" fill="#1c1c1c" stroke="none"/>
<line x1="768.20" y1="634.30" x2="768.20" y2="658.80" stroke-width="1.65" stroke-linecap="butt"/>
<line x1="768.20" y1="673.00" x2="768.20" y2="686.50" stroke-width="1.65" stroke-linecap="butt"/>
<line x1="758.90" y1="634.30" x2="777.50" y2="634.30" stroke-width="1.65" stroke-linecap="butt"/>
<line x1="758.90" y1="686.50" x2="777.50" y2="686.50" stroke-width="1.65" stroke-linecap="butt"/>
<rect x="750.60" y="658.80" width="35.80" height="14.20" fill="none" stroke-width="1.65"/>
<line x1="750.60" y1="667.60" x2="786.40" y2="667.60" stroke-width="1.65" stroke-linecap="butt"/>
<circle cx="768.20" cy="634.30" r="2.6" fill="#1c1c1c" stroke="none"/>
<circle cx="768.20" cy="644.10" r="2.6" fill="#1c1c1c" stroke="none"/>
<circle cx="760.80" cy="662.70" r="2.6" fill="#1c1c1c" stroke="none"/>
<circle cx="768.20" cy="662.70" r="2.6" fill="#1c1c1c" stroke="none"/>
<circle cx="775.60" cy="662.70" r="2.6" fill="#1c1c1c" stroke="none"/>
<circle cx="760.80" cy="672.40" r="2.6" fill="#1c1c1c" stroke="none"/>
<circle cx="768.20" cy="672.40" r="2.6" fill="#1c1c1c" stroke="none"/>
<circle cx="775.60" cy="672.40" r="2.6" fill="#1c1c1c" stroke="none"/>
<circle cx="768.20" cy="679.30" r="2.6" fill="#1c1c1c" stroke="none"/>
<circle cx="768.20" cy="686.50" r="2.6" fill="#1c1c1c" stroke="none"/>
<path d="M715.90,626.40 V614.70 H768.20 V626.40" fill="none" stroke-width="1.4" stroke-linejoin="miter"/>
<text x="742" y="609.1" font-size="12.3" text-anchor="middle">p=0.03</text>
<path d="M87.60,873.07 V992.90 H211.30" fill="none" stroke-width="1.65" stroke-linejoin="miter"/>
<line x1="82.10" y1="873.90" x2="87.60" y2="873.90" stroke-width="1.65" stroke-linecap="butt"/>
<text x="80.1" y="878.5" font-size="12.6" text-anchor="end">-30</text>
<line x1="82.10" y1="913.57" x2="87.60" y2="913.57" stroke-width="1.65" stroke-linecap="butt"/>
<text x="80.1" y="918.17" font-size="12.6" text-anchor="end">-20</text>
<line x1="82.10" y1="953.23" x2="87.60" y2="953.23" stroke-width="1.65" stroke-linecap="butt"/>
<text x="80.1" y="957.83" font-size="12.6" text-anchor="end">-10</text>
<line x1="82.10" y1="992.90" x2="87.60" y2="992.90" stroke-width="1.65" stroke-linecap="butt"/>
<text x="80.1" y="997.5" font-size="12.6" text-anchor="end">0</text>
<line x1="122.40" y1="992.90" x2="122.40" y2="998.40" stroke-width="1.65" stroke-linecap="butt"/>
<text x="122.4" y="1011.8" font-size="12.6" text-anchor="middle">Initial</text>
<line x1="175.30" y1="992.90" x2="175.30" y2="998.40" stroke-width="1.65" stroke-linecap="butt"/>
<text x="175.3" y="1011.8" font-size="12.6" text-anchor="middle">Follow-up</text>
<text x="45.2" y="931.8" font-size="12.1" text-anchor="middle" transform="rotate(-90 45.2 931.8)">Ap4 average</text>
<line x1="122.40" y1="927.30" x2="122.40" y2="930.60" stroke-width="1.65" stroke-linecap="butt"/>
<line x1="122.40" y1="955.50" x2="122.40" y2="968.50" stroke-width="1.65" stroke-linecap="butt"/>
<line x1="113.10" y1="927.30" x2="131.70" y2="927.30" stroke-width="1.65" stroke-linecap="butt"/>
<line x1="113.10" y1="968.50" x2="131.70" y2="968.50" stroke-width="1.65" stroke-linecap="butt"/>
<rect x="105.40" y="930.60" width="34.10" height="24.90" fill="none" stroke-width="1.65"/>
<line x1="105.40" y1="946.20" x2="139.50" y2="946.20" stroke-width="1.65" stroke-linecap="butt"/>
<circle cx="127.16" cy="927.25" r="2.6" fill="#1c1c1c" stroke="none"/>
<circle cx="117.20" cy="931.04" r="2.6" fill="#1c1c1c" stroke="none"/>
<circle cx="122.42" cy="941.71" r="2.6" fill="#1c1c1c" stroke="none"/>
<circle cx="117.20" cy="950.71" r="2.6" fill="#1c1c1c" stroke="none"/>
<circle cx="127.16" cy="951.90" r="2.6" fill="#1c1c1c" stroke="none"/>
<circle cx="122.42" cy="968.48" r="2.6" fill="#1c1c1c" stroke="none"/>
<line x1="175.30" y1="890.80" x2="175.30" y2="911.60" stroke-width="1.65" stroke-linecap="butt"/>
<line x1="175.30" y1="948.10" x2="175.30" y2="953.60" stroke-width="1.65" stroke-linecap="butt"/>
<line x1="166.00" y1="890.80" x2="184.60" y2="890.80" stroke-width="1.65" stroke-linecap="butt"/>
<line x1="166.00" y1="953.60" x2="184.60" y2="953.60" stroke-width="1.65" stroke-linecap="butt"/>
<rect x="158.70" y="911.60" width="33.90" height="36.50" fill="none" stroke-width="1.65"/>
<line x1="158.70" y1="933.90" x2="192.60" y2="933.90" stroke-width="1.65" stroke-linecap="butt"/>
<circle cx="175.26" cy="890.76" r="2.6" fill="#1c1c1c" stroke="none"/>
<circle cx="175.26" cy="917.06" r="2.6" fill="#1c1c1c" stroke="none"/>
<circle cx="175.26" cy="923.93" r="2.6" fill="#1c1c1c" stroke="none"/>
<circle cx="170.28" cy="944.08" r="2.6" fill="#1c1c1c" stroke="none"/>
<circle cx="180.24" cy="947.16" r="2.6" fill="#1c1c1c" stroke="none"/>
<circle cx="175.26" cy="953.55" r="2.6" fill="#1c1c1c" stroke="none"/>
<path d="M122.40,881.50 V870.90 H175.30 V881.50" fill="none" stroke-width="1.4" stroke-linejoin="miter"/>
<text x="148.5" y="863.7" font-size="12.3" text-anchor="middle">p=0.16</text>
<path d="M281.60,873.57 V993.40 H404.40" fill="none" stroke-width="1.65" stroke-linejoin="miter"/>
<line x1="276.10" y1="874.40" x2="281.60" y2="874.40" stroke-width="1.65" stroke-linecap="butt"/>
<text x="274.1" y="879.0" font-size="12.6" text-anchor="end">-30</text>
<line x1="276.10" y1="914.07" x2="281.60" y2="914.07" stroke-width="1.65" stroke-linecap="butt"/>
<text x="274.1" y="918.67" font-size="12.6" text-anchor="end">-20</text>
<line x1="276.10" y1="953.73" x2="281.60" y2="953.73" stroke-width="1.65" stroke-linecap="butt"/>
<text x="274.1" y="958.33" font-size="12.6" text-anchor="end">-10</text>
<line x1="276.10" y1="993.40" x2="281.60" y2="993.40" stroke-width="1.65" stroke-linecap="butt"/>
<text x="274.1" y="998.0" font-size="12.6" text-anchor="end">0</text>
<line x1="317.60" y1="993.40" x2="317.60" y2="998.90" stroke-width="1.65" stroke-linecap="butt"/>
<text x="317.6" y="1012.3" font-size="12.6" text-anchor="middle">Initial</text>
<line x1="370.50" y1="993.40" x2="370.50" y2="998.90" stroke-width="1.65" stroke-linecap="butt"/>
<text x="370.5" y="1012.3" font-size="12.6" text-anchor="middle">Follow-up</text>
<text x="241.0" y="931.8" font-size="12.1" text-anchor="middle" transform="rotate(-90 241.0 931.8)">Ap4 average</text>
<line x1="317.60" y1="914.00" x2="317.60" y2="926.80" stroke-width="1.65" stroke-linecap="butt"/>
<line x1="317.60" y1="944.30" x2="317.60" y2="947.60" stroke-width="1.65" stroke-linecap="butt"/>
<line x1="308.30" y1="914.00" x2="326.90" y2="914.00" stroke-width="1.65" stroke-linecap="butt"/>
<line x1="308.30" y1="947.60" x2="326.90" y2="947.60" stroke-width="1.65" stroke-linecap="butt"/>
<rect x="300.60" y="926.80" width="34.30" height="17.50" fill="none" stroke-width="1.65"/>
<line x1="300.60" y1="936.70" x2="334.90" y2="936.70" stroke-width="1.65" stroke-linecap="butt"/>
<circle cx="317.63" cy="913.98" r="2.6" fill="#1c1c1c" stroke="none"/>
<circle cx="312.42" cy="932.23" r="2.6" fill="#1c1c1c" stroke="none"/>
<circle cx="322.61" cy="930.57" r="2.6" fill="#1c1c1c" stroke="none"/>
<circle cx="312.42" cy="942.42" r="2.6" fill="#1c1c1c" stroke="none"/>
<circle cx="322.61" cy="944.31" r="2.6" fill="#1c1c1c" stroke="none"/>
<circle cx="312.42" cy="947.63" r="2.6" fill="#1c1c1c" stroke="none"/>
<line x1="370.50" y1="888.60" x2="370.50" y2="902.10" stroke-width="1.65" stroke-linecap="butt"/>
<line x1="370.50" y1="933.90" x2="370.50" y2="935.30" stroke-width="1.65" stroke-linecap="butt"/>
<line x1="361.20" y1="888.60" x2="379.80" y2="888.60" stroke-width="1.65" stroke-linecap="butt"/>
<line x1="361.20" y1="935.30" x2="379.80" y2="935.30" stroke-width="1.65" stroke-linecap="butt"/>
<rect x="353.40" y="902.10" width="34.40" height="31.80" fill="none" stroke-width="1.65"/>
<line x1="353.40" y1="917.30" x2="387.80" y2="917.30" stroke-width="1.65" stroke-linecap="butt"/>
<circle cx="370.47" cy="888.63" r="2.6" fill="#1c1c1c" stroke="none"/>
<circle cx="365.73" cy="917.54" r="2.6" fill="#1c1c1c" stroke="none"/>
<circle cx="375.45" cy="913.98" r="2.6" fill="#1c1c1c" stroke="none"/>
<circle cx="365.73" cy="935.31" r="2.6" fill="#1c1c1c" stroke="none"/>
<circle cx="375.45" cy="933.65" r="2.6" fill="#1c1c1c" stroke="none"/>
<path d="M317.60,879.60 V869.00 H370.50 V879.60" fill="none" stroke-width="1.4" stroke-linejoin="miter"/>
<text x="344.4" y="862.3" font-size="12.3" text-anchor="middle">p=0.13</text>
<path d="M483.00,873.77 V992.90 H606.20" fill="none" stroke-width="1.65" stroke-linejoin="miter"/>
<line x1="477.50" y1="874.60" x2="483.00" y2="874.60" stroke-width="1.65" stroke-linecap="butt"/>
<text x="475.5" y="879.2" font-size="12.6" text-anchor="end">-30</text>
<line x1="477.50" y1="914.03" x2="483.00" y2="914.03" stroke-width="1.65" stroke-linecap="butt"/>
<text x="475.5" y="918.63" font-size="12.6" text-anchor="end">-20</text>
<line x1="477.50" y1="953.47" x2="483.00" y2="953.47" stroke-width="1.65" stroke-linecap="butt"/>
<text x="475.5" y="958.07" font-size="12.6" text-anchor="end">-10</text>
<line x1="477.50" y1="992.90" x2="483.00" y2="992.90" stroke-width="1.65" stroke-linecap="butt"/>
<text x="475.5" y="997.5" font-size="12.6" text-anchor="end">0</text>
<line x1="518.10" y1="992.90" x2="518.10" y2="998.40" stroke-width="1.65" stroke-linecap="butt"/>
<text x="518.1" y="1011.8" font-size="12.6" text-anchor="middle">Initial</text>
<line x1="570.70" y1="992.90" x2="570.70" y2="998.40" stroke-width="1.65" stroke-linecap="butt"/>
<text x="570.7" y="1011.8" font-size="12.6" text-anchor="middle">Follow-up</text>
<text x="442" y="932" font-size="12.1" text-anchor="middle" transform="rotate(-90 442 932)">Ap4 average</text>
<line x1="518.10" y1="893.10" x2="518.10" y2="906.40" stroke-width="1.65" stroke-linecap="butt"/>
<line x1="518.10" y1="951.40" x2="518.10" y2="961.60" stroke-width="1.65" stroke-linecap="butt"/>
<line x1="508.80" y1="893.10" x2="527.40" y2="893.10" stroke-width="1.65" stroke-linecap="butt"/>
<line x1="508.80" y1="961.60" x2="527.40" y2="961.60" stroke-width="1.65" stroke-linecap="butt"/>
<rect x="501.50" y="906.40" width="33.40" height="45.00" fill="none" stroke-width="1.65"/>
<line x1="501.50" y1="924.20" x2="534.90" y2="924.20" stroke-width="1.65" stroke-linecap="butt"/>
<circle cx="518.06" cy="893.13" r="2.6" fill="#1c1c1c" stroke="none"/>
<circle cx="513.08" cy="905.45" r="2.6" fill="#1c1c1c" stroke="none"/>
<circle cx="522.80" cy="907.58" r="2.6" fill="#1c1c1c" stroke="none"/>
<circle cx="518.06" cy="912.80" r="2.6" fill="#1c1c1c" stroke="none"/>
<circle cx="518.06" cy="934.83" r="2.6" fill="#1c1c1c" stroke="none"/>
<circle cx="513.08" cy="949.53" r="2.6" fill="#1c1c1c" stroke="none"/>
<circle cx="522.80" cy="953.55" r="2.6" fill="#1c1c1c" stroke="none"/>
<circle cx="518.06" cy="961.61" r="2.6" fill="#1c1c1c" stroke="none"/>
<line x1="570.70" y1="910.40" x2="570.70" y2="916.80" stroke-width="1.65" stroke-linecap="butt"/>
<line x1="570.70" y1="952.60" x2="570.70" y2="965.40" stroke-width="1.65" stroke-linecap="butt"/>
<line x1="561.40" y1="910.40" x2="580.00" y2="910.40" stroke-width="1.65" stroke-linecap="butt"/>
<line x1="561.40" y1="965.40" x2="580.00" y2="965.40" stroke-width="1.65" stroke-linecap="butt"/>
<rect x="553.80" y="916.80" width="33.90" height="35.80" fill="none" stroke-width="1.65"/>
<line x1="553.80" y1="940.00" x2="587.70" y2="940.00" stroke-width="1.65" stroke-linecap="butt"/>
<circle cx="570.66" cy="910.43" r="2.6" fill="#1c1c1c" stroke="none"/>
<circle cx="570.66" cy="921.80" r="2.6" fill="#1c1c1c" stroke="none"/>
<circle cx="565.45" cy="939.57" r="2.6" fill="#1c1c1c" stroke="none"/>
<circle cx="575.40" cy="941.71" r="2.6" fill="#1c1c1c" stroke="none"/>
<circle cx="570.66" cy="965.40" r="2.6" fill="#1c1c1c" stroke="none"/>
<path d="M518.10,888.20 V876.80 H570.70 V888.20" fill="none" stroke-width="1.4" stroke-linejoin="miter"/>
<text x="544.6" y="871.2" font-size="12.3" text-anchor="middle">p=0.13</text>
<path d="M681.00,872.15 V990.70 H803.70" fill="none" stroke-width="1.9" stroke-linejoin="miter"/>
<line x1="675.50" y1="873.10" x2="681.00" y2="873.10" stroke-width="1.9" stroke-linecap="butt"/>
<text x="673.5" y="877.7" font-size="12.6" text-anchor="end">-30</text>
<line x1="675.50" y1="912.30" x2="681.00" y2="912.30" stroke-width="1.9" stroke-linecap="butt"/>
<text x="673.5" y="916.9" font-size="12.6" text-anchor="end">-20</text>
<line x1="675.50" y1="951.50" x2="681.00" y2="951.50" stroke-width="1.9" stroke-linecap="butt"/>
<text x="673.5" y="956.1" font-size="12.6" text-anchor="end">-10</text>
<line x1="675.50" y1="990.70" x2="681.00" y2="990.70" stroke-width="1.9" stroke-linecap="butt"/>
<text x="673.5" y="995.3" font-size="12.6" text-anchor="end">0</text>
<line x1="716.10" y1="990.70" x2="716.10" y2="996.20" stroke-width="1.9" stroke-linecap="butt"/>
<text x="716.1" y="1009.6" font-size="12.6" text-anchor="middle">Initial</text>
<line x1="768.60" y1="990.70" x2="768.60" y2="996.20" stroke-width="1.9" stroke-linecap="butt"/>
<text x="768.6" y="1009.6" font-size="12.6" text-anchor="middle">Follow-up</text>
<text x="640" y="930" font-size="12.1" text-anchor="middle" transform="rotate(-90 640 930)">Ap4 average</text>
<line x1="716.10" y1="907.60" x2="716.10" y2="923.40" stroke-width="1.65" stroke-linecap="butt"/>
<line x1="716.10" y1="944.80" x2="716.10" y2="947.80" stroke-width="1.65" stroke-linecap="butt"/>
<line x1="706.80" y1="907.60" x2="725.40" y2="907.60" stroke-width="1.65" stroke-linecap="butt"/>
<line x1="706.80" y1="947.80" x2="725.40" y2="947.80" stroke-width="1.65" stroke-linecap="butt"/>
<rect x="699.70" y="923.40" width="33.20" height="21.40" fill="none" stroke-width="1.65"/>
<line x1="699.70" y1="939.30" x2="732.90" y2="939.30" stroke-width="1.65" stroke-linecap="butt"/>
<circle cx="716.10" cy="907.60" r="2.6" fill="#1c1c1c" stroke="none"/>
<circle cx="716.10" cy="918.70" r="2.6" fill="#1c1c1c" stroke="none"/>
<circle cx="716.10" cy="924.30" r="2.6" fill="#1c1c1c" stroke="none"/>
<circle cx="706.00" cy="937.30" r="2.6" fill="#1c1c1c" stroke="none"/>
<circle cx="716.10" cy="936.30" r="2.6" fill="#1c1c1c" stroke="none"/>
<circle cx="725.40" cy="940.20" r="2.6" fill="#1c1c1c" stroke="none"/>
<circle cx="706.00" cy="943.20" r="2.6" fill="#1c1c1c" stroke="none"/>
<circle cx="716.10" cy="944.80" r="2.6" fill="#1c1c1c" stroke="none"/>
<circle cx="706.00" cy="948.40" r="2.6" fill="#1c1c1c" stroke="none"/>
<circle cx="725.40" cy="947.50" r="2.6" fill="#1c1c1c" stroke="none"/>
<line x1="768.60" y1="900.60" x2="768.60" y2="907.40" stroke-width="1.65" stroke-linecap="butt"/>
<line x1="768.60" y1="939.30" x2="768.60" y2="947.10" stroke-width="1.65" stroke-linecap="butt"/>
<line x1="759.30" y1="900.60" x2="777.90" y2="900.60" stroke-width="1.65" stroke-linecap="butt"/>
<line x1="759.30" y1="947.10" x2="777.90" y2="947.10" stroke-width="1.65" stroke-linecap="butt"/>
<rect x="751.90" y="907.40" width="33.60" height="31.90" fill="none" stroke-width="1.65"/>
<line x1="751.90" y1="919.80" x2="785.50" y2="919.80" stroke-width="1.65" stroke-linecap="butt"/>
<circle cx="773.40" cy="900.60" r="2.6" fill="#1c1c1c" stroke="none"/>
<circle cx="763.60" cy="903.70" r="2.6" fill="#1c1c1c" stroke="none"/>
<circle cx="763.60" cy="915.40" r="2.6" fill="#1c1c1c" stroke="none"/>
<circle cx="773.40" cy="914.90" r="2.6" fill="#1c1c1c" stroke="none"/>
<circle cx="768.60" cy="924.60" r="2.6" fill="#1c1c1c" stroke="none"/>
<circle cx="768.60" cy="932.40" r="2.6" fill="#1c1c1c" stroke="none"/>
<circle cx="773.40" cy="942.80" r="2.6" fill="#1c1c1c" stroke="none"/>
<circle cx="763.60" cy="947.10" r="2.6" fill="#1c1c1c" stroke="none"/>
<path d="M716.10,885.80 V875.20 H768.60 V885.80" fill="none" stroke-width="1.4" stroke-linejoin="miter"/>
<text x="742.6" y="868.6" font-size="12.3" text-anchor="middle">p=0.08</text>
<path d="M112,560 V554 H758.5 V560" fill="none" stroke-width="1.35" stroke-linejoin="miter"/>
<text x="440" y="546.5" font-size="20.3" text-anchor="middle">+ anakinra</text>
<text x="148.7" y="588.5" font-size="20.7" text-anchor="middle">Non-specific</text>
<text x="352.7" y="588.5" font-size="20.7" text-anchor="middle">KD-like only</text>
<text x="539.5" y="588.5" font-size="20.7" text-anchor="middle">CV shock w/o KD</text>
<text x="740.5" y="588.5" font-size="20.7" text-anchor="middle">KDSS</text>
<path d="M108,816 V810 H754.5 V816" fill="none" stroke-width="1.35" stroke-linejoin="miter"/>
<text x="437.5" y="802.5" font-size="20.3" text-anchor="middle">+ anakinra</text>
<text x="148.2" y="837.5" font-size="20.7" text-anchor="middle">Non-specific</text>
<text x="343.5" y="837.5" font-size="20.7" text-anchor="middle">KD-like only</text>
<text x="541" y="837.5" font-size="20.7" text-anchor="middle">CV shock w/o KD</text>
<text x="739.5" y="837.5" font-size="20.7" text-anchor="middle">KDSS</text>
</g>
</svg>
</body></html>
